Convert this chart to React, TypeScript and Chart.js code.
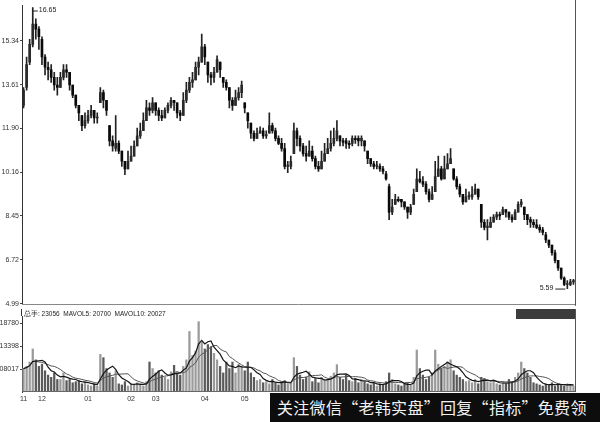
import { useEffect, useRef } from "react";
import { Chart, registerables } from "chart.js";

Chart.register(...registerables);

// ---- data ----
const opens = [
  12.8, 13.5, 14.5, 15.2, 16.0, 15.8, 15.4, 14.7, 14.3, 14.2, 13.9, 13.6, 13.5, 13.9, 14.2, 14.1, 13.6, 13.2, 12.8, 12.4,
  12.0, 12.2, 12.4, 12.6, 12.3, 12.9, 13.3, 13.0, 12.0, 11.4, 11.1, 11.3, 11.0, 10.6, 10.3, 10.6, 10.8, 11.2, 11.6, 11.8,
  12.2, 12.7, 12.6, 12.9, 12.6, 12.4, 12.3, 12.6, 12.8, 13.0, 12.9, 12.5, 12.4, 13.0, 13.4, 13.7, 13.8, 14.3, 14.5, 15.1,
  14.5, 14.0, 13.9, 14.1, 14.5, 13.9, 13.7, 13.5, 13.0, 12.8, 13.1, 13.3, 12.9, 12.5, 12.1, 11.7, 11.5, 11.7, 11.8, 11.6,
  11.7, 12.0, 11.8, 11.5, 11.3, 11.1, 10.4, 10.4, 10.9, 11.8, 11.5, 11.2, 10.9, 10.8, 11.0, 10.7, 10.4, 10.3, 10.6, 10.9,
  11.1, 11.3, 11.5, 11.6, 11.4, 11.4, 11.3, 11.3, 11.5, 11.5, 11.4, 11.4, 11.0, 10.7, 10.5, 10.4, 10.4, 10.3, 10.1, 9.6,
  8.6, 8.9, 9.1, 9.1, 9.0, 8.8, 8.6, 8.9, 9.4, 9.9, 9.8, 9.7, 9.4, 9.1, 9.4, 10.0, 10.3, 9.9, 10.3, 10.5,
  10.3, 9.9, 9.6, 9.3, 9.0, 9.2, 9.2, 9.3, 9.5, 8.9, 8.2, 8.0, 8.0, 8.2, 8.4, 8.5, 8.5, 8.7, 8.6, 8.4,
  8.3, 8.6, 8.9, 8.8, 8.5, 8.3, 8.2, 8.1, 8.0, 7.9, 7.7, 7.5, 7.3, 7.0, 6.7, 6.4, 6.0, 5.75, 5.75, 5.85,
];
const highs = [
  13.5, 14.7, 15.4, 16.65, 16.2, 15.9, 15.5, 14.8, 14.5, 14.4, 14.1, 13.9, 14.1, 14.4, 14.4, 14.1, 13.6, 13.2, 12.8, 12.4,
  12.5, 12.6, 12.8, 12.6, 12.5, 13.5, 13.4, 13.0, 12.0, 11.6, 12.4, 11.4, 11.0, 10.6, 11.0, 11.2, 11.4, 11.9, 12.1, 12.5,
  13.0, 12.9, 13.1, 12.9, 12.7, 12.6, 12.7, 12.9, 13.1, 13.0, 12.9, 12.6, 13.3, 13.7, 13.9, 14.1, 14.5, 14.7, 15.6, 15.2,
  14.5, 14.1, 14.3, 14.75, 14.5, 13.9, 13.8, 13.5, 13.1, 13.4, 13.5, 13.75, 12.9, 12.5, 12.1, 11.8, 11.9, 11.95, 11.9, 11.8,
  12.5, 12.1, 11.9, 11.6, 11.5, 11.3, 10.6, 10.8, 12.1, 11.9, 11.6, 11.3, 11.2, 11.4, 11.2, 10.8, 10.6, 11.0, 11.3, 11.5,
  11.8, 11.9, 12.2, 11.6, 11.5, 11.5, 11.4, 11.6, 11.6, 11.6, 11.6, 11.4, 11.0, 10.7, 10.6, 10.6, 10.5, 10.4, 10.2, 9.7,
  9.1, 9.3, 9.2, 9.1, 9.0, 8.8, 8.9, 9.5, 10.3, 10.2, 10.0, 9.8, 9.5, 9.6, 10.6, 10.8, 10.4, 10.8, 10.9, 11.1,
  10.3, 10.0, 9.7, 9.3, 9.5, 9.4, 9.6, 9.7, 9.5, 8.9, 8.3, 8.3, 8.4, 8.5, 8.6, 8.6, 8.8, 8.7, 8.6, 8.5,
  8.7, 9.0, 9.1, 8.8, 8.5, 8.4, 8.3, 8.3, 8.1, 8.0, 7.8, 7.5, 7.3, 7.1, 6.7, 6.4, 6.05, 5.9, 5.95, 5.95,
];
const lows = [
  12.7, 13.4, 14.4, 15.1, 15.4, 15.0, 14.4, 14.0, 13.8, 13.7, 13.4, 13.2, 13.5, 13.8, 13.9, 13.4, 13.1, 12.7, 12.2, 11.8,
  11.9, 12.1, 12.3, 12.1, 12.1, 12.9, 12.7, 12.4, 11.2, 11.0, 11.0, 10.9, 10.4, 10.07, 10.3, 10.6, 10.8, 11.2, 11.5, 11.8,
  12.2, 12.4, 12.5, 12.4, 12.2, 12.2, 12.3, 12.5, 12.7, 12.6, 12.3, 12.2, 12.4, 12.9, 13.3, 13.5, 13.8, 14.0, 14.5, 14.4,
  13.7, 13.6, 13.7, 14.1, 13.9, 13.5, 13.4, 12.7, 12.6, 12.8, 13.0, 13.1, 12.5, 11.9, 11.5, 11.4, 11.5, 11.7, 11.5, 11.5,
  11.7, 11.7, 11.4, 11.25, 11.0, 10.3, 10.15, 10.3, 10.9, 11.2, 11.0, 10.8, 10.6, 10.8, 10.6, 10.3, 10.2, 10.3, 10.6, 10.9,
  11.0, 11.2, 11.4, 11.2, 11.2, 11.1, 11.1, 11.2, 11.3, 11.2, 11.2, 11.0, 10.5, 10.4, 10.3, 10.3, 10.2, 10.1, 9.85, 8.3,
  8.5, 8.9, 9.0, 8.8, 8.7, 8.35, 8.5, 8.9, 9.4, 9.75, 9.6, 9.3, 9.0, 9.1, 9.4, 10.0, 9.85, 9.9, 10.3, 10.5,
  9.85, 9.5, 9.2, 8.9, 9.0, 9.1, 9.1, 9.3, 9.1, 8.0, 7.9, 7.5, 8.0, 8.2, 8.3, 8.3, 8.5, 8.4, 8.3, 8.2,
  8.3, 8.6, 8.8, 8.3, 8.1, 8.0, 8.0, 7.95, 7.8, 7.7, 7.4, 7.2, 6.9, 6.6, 6.3, 5.95, 5.7, 5.59, 5.7, 5.75,
];
const closes = [
  13.4, 14.4, 15.2, 16.0, 15.8, 15.5, 14.7, 14.3, 14.2, 13.9, 13.6, 13.5, 13.9, 14.2, 14.1, 13.6, 13.2, 12.8, 12.5, 12.0,
  12.2, 12.4, 12.6, 12.3, 12.3, 13.3, 13.0, 12.6, 11.4, 11.2, 11.3, 11.0, 10.6, 10.3, 10.6, 10.8, 11.2, 11.6, 11.8, 12.2,
  12.7, 12.6, 12.9, 12.6, 12.4, 12.3, 12.6, 12.8, 13.0, 12.9, 12.5, 12.4, 13.0, 13.4, 13.7, 13.8, 14.3, 14.5, 15.1, 14.7,
  14.0, 13.9, 14.1, 14.6, 14.2, 13.7, 13.5, 13.0, 12.8, 13.1, 13.3, 13.6, 12.7, 12.2, 11.7, 11.5, 11.7, 11.8, 11.6, 11.65,
  12.0, 11.8, 11.5, 11.3, 11.1, 10.4, 10.45, 10.6, 11.8, 11.5, 11.2, 10.9, 10.8, 11.0, 10.7, 10.4, 10.3, 10.6, 10.9, 11.1,
  11.3, 11.5, 11.8, 11.4, 11.35, 11.3, 11.25, 11.5, 11.45, 11.4, 11.5, 11.2, 10.7, 10.5, 10.4, 10.45, 10.3, 10.2, 9.9, 8.6,
  8.8, 9.1, 9.05, 9.0, 8.8, 8.6, 8.8, 9.3, 9.9, 9.8, 9.7, 9.4, 9.1, 9.3, 10.0, 10.3, 9.9, 10.3, 10.5, 10.7,
  9.9, 9.6, 9.3, 9.0, 9.2, 9.25, 9.3, 9.5, 9.2, 8.2, 8.0, 8.05, 8.2, 8.4, 8.5, 8.45, 8.7, 8.6, 8.4, 8.3,
  8.6, 8.9, 9.0, 8.5, 8.3, 8.2, 8.1, 8.0, 7.9, 7.8, 7.5, 7.3, 7.0, 6.7, 6.4, 6.0, 5.75, 5.78, 5.85, 5.9,
];
const volumes = [
  110000, 120000, 140000, 200000, 150000, 120000, 130000, 100000, 80000, 70000, 90000, 60000, 60000, 90000, 55000, 60000, 45000, 50000, 55000, 40000,
  50000, 35000, 30000, 40000, 30000, 175000, 160000, 110000, 90000, 70000, 100000, 40000, 35000, 50000, 30000, 40000, 35000, 45000, 40000, 30000,
  50000, 140000, 110000, 90000, 100000, 80000, 70000, 60000, 95000, 125000, 90000, 80000, 120000, 150000, 280000, 170000, 190000, 325000, 230000, 200000,
  220000, 210000, 180000, 150000, 120000, 90000, 140000, 110000, 140000, 90000, 130000, 120000, 100000, 140000, 90000, 70000, 55000, 60000, 45000, 50000,
  40000, 60000, 45000, 35000, 50000, 55000, 40000, 45000, 160000, 120000, 80000, 60000, 70000, 95000, 50000, 65000, 45000, 70000, 55000, 60000,
  75000, 90000, 128000, 70000, 60000, 80000, 55000, 50000, 65000, 45000, 60000, 50000, 40000, 35000, 45000, 30000, 40000, 35000, 50000, 90000,
  60000, 40000, 35000, 30000, 40000, 45000, 35000, 70000, 195000, 110000, 80000, 60000, 70000, 90000, 195000, 130000, 110000, 120000, 140000, 150000,
  100000, 80000, 70000, 60000, 50000, 55000, 45000, 60000, 40000, 70000, 65000, 50000, 45000, 55000, 40000, 35000, 45000, 40000, 60000, 50000,
  70000, 90000, 140000, 110000, 90000, 70000, 45000, 40000, 35000, 30000, 40000, 35000, 45000, 30000, 40000, 35000, 30000, 40000, 35000, 30000,
];
const categories = closes.map((_, i) => String(i + 1));
const priceTicks = [4.99, 6.72, 8.45, 10.16, 11.9, 13.61, 15.34];
const priceRange = [4.99, 16.74];
const volumeTicks = [108017, 213398, 318780];
const volumeRange = [2636, 351000];
const monthLabels = ["11", "12", "01", "02", "03", "04", "05"];
const monthStartIdx = [0, 6, 21, 35, 43, 59, 72];
const volumeHeader = "总手: 23056  MAVOL5: 20700  MAVOL10: 20027";
const watermark = "关注微信“老韩实盘”回复“指标”免费领";

const FONT = "'Liberation Sans', Arial, sans-serif";

function movingAverage(arr: number[], n: number) {
  return arr.map((_, i) => {
    const s = arr.slice(Math.max(0, i - n + 1), i + 1);
    return s.reduce((a, b) => a + b, 0) / s.length;
  });
}

export default function App() {
  const priceRef = useRef<HTMLCanvasElement>(null);
  const volRef = useRef<HTMLCanvasElement>(null);

  useEffect(() => {
    Chart.defaults.font.family = FONT;
    const wicks = categories.map((_, i) => [lows[i], highs[i]]);
    const bodies = categories.map((_, i) => [opens[i], closes[i]]);
    const bodyColors = categories.map((_, i) => (closes[i] >= opens[i] ? "#2a2a2a" : "#0a0a0a"));

    const priceDeco = {
      id: "priceDeco",
      afterDatasetsDraw(chart: any) {
        const { ctx, chartArea, scales } = chart;
        const xs = scales.x;
        const ys = scales.y;
        ctx.save();
        // frame: right + bottom
        ctx.strokeStyle = "#555";
        ctx.lineWidth = 1;
        ctx.beginPath();
        ctx.moveTo(Math.round(chartArea.right) + 0.5, 0);
        ctx.lineTo(Math.round(chartArea.right) + 0.5, chartArea.bottom + 2);
        ctx.stroke();
        ctx.strokeStyle = "#888";
        ctx.beginPath();
        ctx.moveTo(chartArea.left, Math.round(chartArea.bottom) + 0.5);
        ctx.lineTo(chartArea.right, Math.round(chartArea.bottom) + 0.5);
        ctx.stroke();
        // max / min annotations
        let hi = 0;
        let lo = 0;
        highs.forEach((v, i) => { if (v > highs[hi]) hi = i; });
        lows.forEach((v, i) => { if (v < lows[lo]) lo = i; });
        ctx.fillStyle = "#222";
        ctx.strokeStyle = "#222";
        ctx.font = `7px ${FONT}`;
        ctx.textBaseline = "middle";
        const hx = xs.getPixelForValue(hi);
        const hy = Math.max(ys.getPixelForValue(highs[hi]) + 3, 5);
        ctx.beginPath();
        ctx.moveTo(hx, hy + 0.5);
        ctx.lineTo(hx + 5, hy + 0.5);
        ctx.stroke();
        ctx.textAlign = "left";
        ctx.fillText(highs[hi].toFixed(2), hx + 6, hy);
        const lx = xs.getPixelForValue(lo);
        const ly = ys.getPixelForValue(lows[lo]);
        ctx.beginPath();
        ctx.moveTo(lx - 2, ly + 0.5);
        ctx.lineTo(lx - 12, ly + 0.5);
        ctx.stroke();
        ctx.textAlign = "right";
        ctx.fillText(lows[lo].toFixed(2), lx - 14, ly);
        ctx.restore();
      },
    };

    const price = new Chart(priceRef.current!, {
      type: "bar",
      data: {
        labels: categories,
        datasets: [
          { data: bodies as any, backgroundColor: bodyColors, barThickness: 2, grouped: false, minBarLength: 1, order: 0 } as any,
          { data: wicks as any, backgroundColor: "#222", barThickness: 1, grouped: false, order: 1 } as any,
        ],
      },
      options: {
        animation: false,
        responsive: false,
        maintainAspectRatio: false,
        layout: { autoPadding: false, padding: { left: 0, right: 25, top: 0, bottom: 1 } } as any,
        plugins: { legend: { display: false }, tooltip: { enabled: false } },
        scales: {
          x: { display: false, offset: true, grid: { display: false } },
          y: {
            min: priceRange[0],
            max: priceRange[1],
            afterFit: (s: any) => { s.width = 22; },
            afterBuildTicks: (s: any) => { s.ticks = priceTicks.map((v) => ({ value: v })); },
            ticks: { font: { size: 7, family: FONT }, color: "#333", padding: 1, callback: (v: any) => Number(v).toFixed(2) },
            grid: { drawOnChartArea: false, tickLength: 2, color: "#444" },
            border: { color: "#333" },
          },
        },
      },
      plugins: [priceDeco],
    });

    const ma5 = movingAverage(volumes, 5);
    const ma10 = movingAverage(volumes, 10);
    const volColors = categories.map((_, i) => (closes[i] >= opens[i] ? "#9a9a9a" : "#5a5a5a"));

    const volDeco = {
      id: "volDeco",
      afterDatasetsDraw(chart: any) {
        const { ctx, chartArea } = chart;
        ctx.save();
        ctx.strokeStyle = "#333";
        ctx.lineWidth = 1;
        ctx.beginPath();
        ctx.moveTo(Math.round(chartArea.left) - 0.5, 0);
        ctx.lineTo(Math.round(chartArea.left) - 0.5, chartArea.top);
        ctx.stroke();
        ctx.strokeStyle = "#555";
        ctx.beginPath();
        ctx.moveTo(Math.round(chartArea.right) + 0.5, 0);
        ctx.lineTo(Math.round(chartArea.right) + 0.5, chartArea.bottom);
        ctx.stroke();
        ctx.strokeStyle = "#666";
        ctx.beginPath();
        ctx.moveTo(chartArea.left, Math.round(chartArea.bottom) - 0.5);
        ctx.lineTo(chartArea.right, Math.round(chartArea.bottom) - 0.5);
        ctx.stroke();
        // header text
        ctx.fillStyle = "#222";
        ctx.font = `6.5px ${FONT}`;
        ctx.textBaseline = "middle";
        ctx.textAlign = "left";
        ctx.fillText(volumeHeader, chartArea.left + 2, 5);
        // dark label box at the right
        ctx.fillStyle = "#3c3c3c";
        ctx.fillRect(chartArea.right - 59, 0, 59, 10);
        ctx.restore();
      },
    };

    const vol = new Chart(volRef.current!, {
      type: "bar",
      data: {
        labels: categories,
        datasets: [
          { type: "line", data: ma5, borderColor: "#151515", borderWidth: 1.2, pointRadius: 0, order: 0 } as any,
          { type: "line", data: ma10, borderColor: "#555", borderWidth: 1, pointRadius: 0, order: 1 } as any,
          { data: volumes, backgroundColor: volColors, barThickness: 1.6, order: 2 } as any,
        ],
      },
      options: {
        animation: false,
        responsive: false,
        maintainAspectRatio: false,
        layout: { autoPadding: false, padding: { left: 0, right: 25, top: 7, bottom: 0 } } as any,
        plugins: { legend: { display: false }, tooltip: { enabled: false } },
        scales: {
          x: {
            offset: true,
            afterFit: (s: any) => { s.height = 16; },
            grid: { display: false, drawTicks: false },
            border: { display: false },
            ticks: {
              autoSkip: false,
              maxRotation: 0,
              padding: 3,
              font: { size: 7, family: FONT },
              color: "#333",
              callback: (_v: any, i: number) => {
                const k = monthStartIdx.indexOf(i);
                return k >= 0 ? monthLabels[k] : "";
              },
            },
          },
          y: {
            min: volumeRange[0],
            max: volumeRange[1],
            afterFit: (s: any) => { s.width = 22; },
            afterBuildTicks: (s: any) => { s.ticks = volumeTicks.map((v) => ({ value: v })); },
            ticks: { font: { size: 7, family: FONT }, color: "#333", padding: 1, callback: (v: any) => String(v) },
            grid: { drawOnChartArea: false, tickLength: 2, color: "#444" },
            border: { color: "#333" },
          },
        },
      },
      plugins: [volDeco],
    });

    return () => {
      price.destroy();
      vol.destroy();
    };
  }, []);

  return (
    <div style={{ position: "absolute", left: 0, top: 0, width: 600, height: 422, background: "#fff", overflow: "hidden" }}>
      <canvas ref={priceRef} width={600} height={309} style={{ position: "absolute", left: 0, top: 0, width: 600, height: 309 }} />
      <canvas ref={volRef} width={600} height={99} style={{ position: "absolute", left: 0, top: 309, width: 600, height: 99 }} />
      <div
        style={{
          position: "absolute",
          left: 270,
          top: 393,
          width: 330,
          height: 29,
          background: "#0d0d0d",
          color: "#f2f2f2",
          fontFamily: "'Noto Sans CJK SC', sans-serif",
          fontSize: 16,
          lineHeight: "29px",
          paddingLeft: 7,
          boxSizing: "border-box",
          whiteSpace: "nowrap",
          letterSpacing: 0.3,
        }}
      >
        {watermark}
      </div>
    </div>
  );
}
